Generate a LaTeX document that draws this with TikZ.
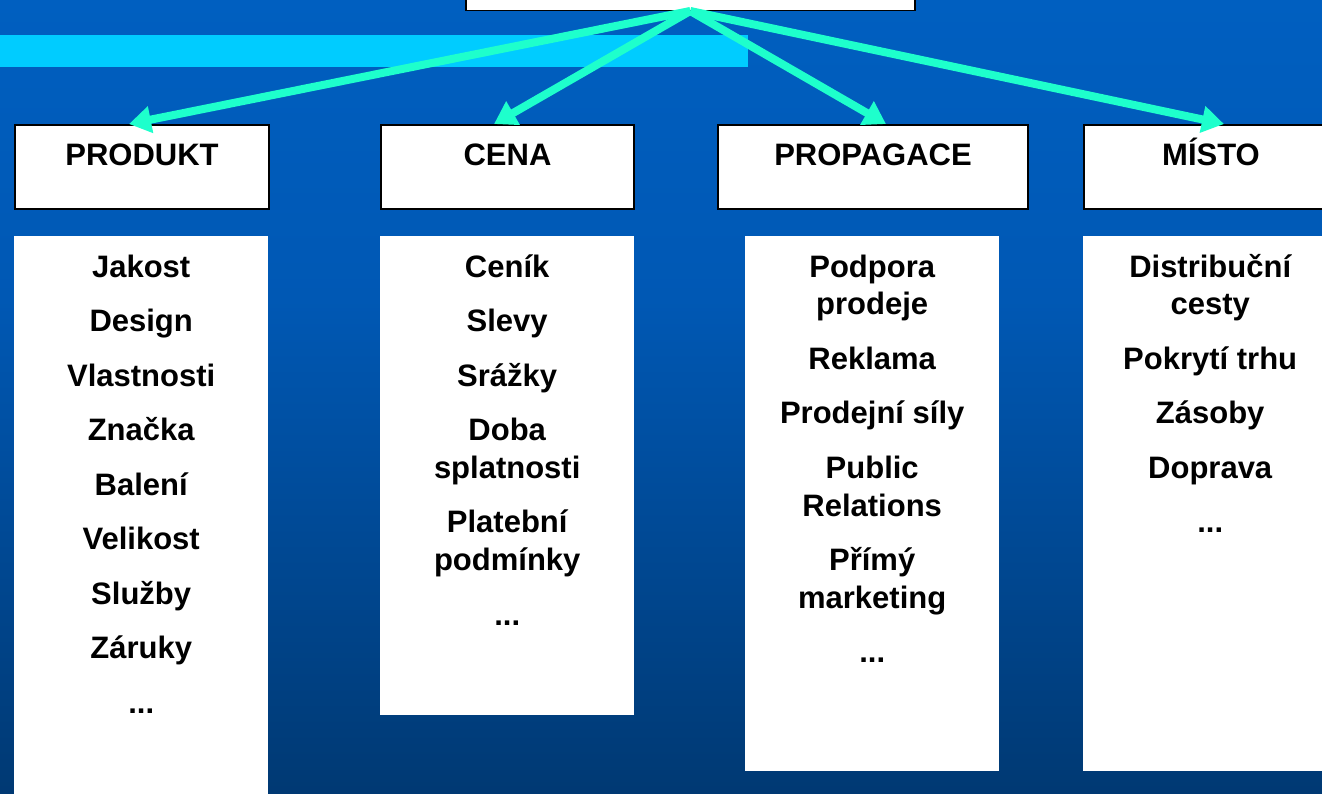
\documentclass[tikz,border=0pt]{standalone}
\usepackage{fontspec}
\setmainfont{Liberation Sans}
\usetikzlibrary{arrows.meta}

\definecolor{bgtop}{RGB}{0,95,192}
\definecolor{bgmid}{RGB}{0,88,180}
\definecolor{bgbot}{RGB}{0,57,115}
\definecolor{barcyan}{RGB}{0,204,255}
\definecolor{arrowaqua}{RGB}{30,255,204}

\begin{document}
\begin{tikzpicture}[x=1pt,y=-1pt,
  bigfont/.style={font=\fontsize{31}{37.7}\selectfont\bfseries},
  hdr/.style={bigfont, draw=black, line width=2pt, fill=white, inner sep=0pt,
    anchor=north west, minimum height=84pt, text height=40.5pt, text depth=43.5pt},
  colbox/.style={fill=white, inner sep=0pt, anchor=north west},
  items/.style={bigfont, inner sep=0pt, anchor=north, align=center},
  fanarrow/.style={draw=arrowaqua, line width=8pt, -{Triangle[length=22pt,width=26pt]}}
]
\useasboundingbox (0,0) rectangle (1322,793);
\clip (0,0) rectangle (1322,793);

% background gradient
\shade[top color=bgtop, bottom color=bgmid] (0,0) rectangle (1322,300);
\shade[top color=bgmid, bottom color=bgbot] (0,299.5) rectangle (1322,793);

% light accent bar
\fill[barcyan] (0,35) rectangle (748,67);

% root box, cut by the top edge
\node[draw=black, line width=1.5pt, fill=white, inner sep=0pt, anchor=south west,
  minimum width=449pt, minimum height=40pt] (root) at (465,11) {};

% category headers
\node[hdr, minimum width=254pt] (hP) at (14,124) {PRODUKT};
\node[hdr, minimum width=253pt] (hC) at (380,124) {CENA};
\node[hdr, minimum width=310pt] (hR) at (717,124) {PROPAGACE};
\node[hdr, minimum width=254pt] (hM) at (1083,124) {MÍSTO};

% item columns
\node[colbox, minimum width=254pt, minimum height=580pt] (cP) at (14,236) {};
\node[colbox, minimum width=254pt, minimum height=479pt] (cC) at (380,236) {};
\node[colbox, minimum width=254pt, minimum height=535pt] (cR) at (745,236) {};
\node[colbox, minimum width=254pt, minimum height=535pt] (cM) at (1083,236) {};

\node[items] (tP) at ([yshift=-9pt]cP.north) {\rule{0pt}{32pt}Jakost\\[16.8pt]Design\\[16.8pt]Vlastnosti\\[16.8pt]Značka\\[16.8pt]Balení\\[16.8pt]Velikost\\[16.8pt]Služby\\[16.8pt]Záruky\\[16.8pt]...};
\node[items] (tC) at ([yshift=-9pt]cC.north) {\rule{0pt}{32pt}Ceník\\[16.8pt]Slevy\\[16.8pt]Srážky\\[16.8pt]Doba\\splatnosti\\[16.8pt]Platební\\podmínky\\[16.8pt]...};
\node[items] (tR) at ([yshift=-9pt]cR.north) {\rule{0pt}{32pt}Podpora\\prodeje\\[16.8pt]Reklama\\[16.8pt]Prodejní síly\\[16.8pt]Public\\Relations\\[16.8pt]Přímý\\marketing\\[16.8pt]...};
\node[items] (tM) at ([yshift=-9pt]cM.north) {\rule{0pt}{32pt}Distribuční\\cesty\\[16.8pt]Pokrytí trhu\\[16.8pt]Zásoby\\[16.8pt]Doprava\\[16.8pt]...};

% connectors from the root box
\draw[fanarrow] (root.south) -- ([xshift=-13pt]hP.north);
\draw[fanarrow] (root.south) -- ([xshift=-13.5pt]hC.north);
\draw[fanarrow] (root.south) -- ([xshift=13pt]hR.north);
\draw[fanarrow] (root.south) -- ([xshift=13pt]hM.north);
\end{tikzpicture}
\end{document}
